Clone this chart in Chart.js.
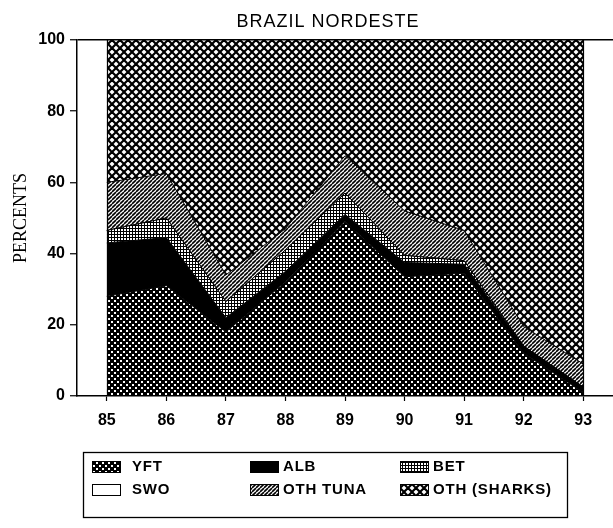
<!DOCTYPE html>
<html><head><meta charset="utf-8">
<script src="https://cdn.jsdelivr.net/npm/chart.js@4.4.1/dist/chart.umd.min.js"></script>
<style>html,body{margin:0;padding:0;background:#fff;}canvas{display:block;}</style>
</head><body>
<canvas id="c" width="613" height="528"></canvas>
<script>
const years = [85, 86, 87, 88, 89, 90, 91, 92, 93];
const yft = [28, 31, 18, 32, 49, 33.5, 34.5, 12, 1];
const alb = [15, 13.5, 4, 3, 2, 4, 2.5, 2, 1.5];
const bet = [3.5, 5.5, 4.5, 6, 6, 2, 1, 0, 0];
const swo = [0, 0, 0, 0, 0, 0, 0, 0, 0];
const othTuna = [13.5, 12.5, 7.5, 6, 10.5, 12.5, 8.5, 5.5, 6.5];
const othSharks = [40, 37.5, 66, 53, 32.5, 48, 53.5, 80.5, 91];
const seriesLabels = ['YFT', 'ALB', 'BET', 'SWO', 'OTH TUNA', 'OTH (SHARKS)'];
const yTicks = [0, 20, 40, 60, 80, 100];
const chartTitle = 'BRAZIL NORDESTE';
const yTitle = 'PERCENTS';

function tile(w, h, draw) {
  const c = document.createElement('canvas');
  c.width = w; c.height = h;
  const g = c.getContext('2d');
  draw(g, w, h);
  return document.getElementById('c').getContext('2d').createPattern(c, 'repeat');
}
const patYFT = tile(6, 6, (g) => {
  g.fillStyle = '#000'; g.fillRect(0, 0, 6, 6);
  g.fillStyle = '#fff'; g.fillRect(0, 0, 2, 2); g.fillRect(3, 3, 2, 2);
});
const patBET = tile(3, 3, (g) => {
  g.fillStyle = '#000'; g.fillRect(0, 0, 3, 3);
  g.fillStyle = '#fff'; g.fillRect(1, 1, 2, 2);
});
const patTuna = tile(4, 4, (g, s) => {
  g.fillStyle = '#fff'; g.fillRect(0, 0, s, s);
  g.strokeStyle = '#000'; g.lineWidth = 1.6;
  for (const d of [-s, 0, s]) { g.beginPath(); g.moveTo(d, s); g.lineTo(d + s, 0); g.stroke(); }
});
const patShark = tile(8, 8, (g, s) => {
  g.fillStyle = '#fff'; g.fillRect(0, 0, s, s);
  g.strokeStyle = '#000'; g.lineWidth = 2.2;
  for (const d of [-s, 0, s]) {
    g.beginPath(); g.moveTo(d, 0); g.lineTo(d + s, s); g.stroke();
    g.beginPath(); g.moveTo(d, s); g.lineTo(d + s, 0); g.stroke();
  }
});

const fills = [patYFT, '#000', patBET, '#fff', patTuna, patShark];
const seriesData = [yft, alb, bet, swo, othTuna, othSharks];

const datasets = seriesData.map((arr, i) => ({
  label: seriesLabels[i],
  data: arr.map((v, j) => ({ x: years[j], y: v })),
  backgroundColor: fills[i],
  borderColor: '#000',
  borderWidth: 1,
  pointRadius: 0,
  tension: 0,
  fill: i === 0 ? 'origin' : '-1'
}));

const decor = {
  id: 'decor',
  afterDatasetsDraw(chart) {
    const { ctx, scales: { x, y } } = chart;
    ctx.save();
    ctx.strokeStyle = '#000'; ctx.lineWidth = 1.2;
    for (const v of [years[0], years[years.length - 1]]) {
      const px = Math.round(x.getPixelForValue(v)) + 0.5;
      ctx.beginPath(); ctx.moveTo(px, y.getPixelForValue(0)); ctx.lineTo(px, y.getPixelForValue(100)); ctx.stroke();
    }
    ctx.restore();
  },
  afterDraw(chart) {
    const ctx = chart.ctx;
    ctx.save();
    ctx.fillStyle = '#000';
    ctx.font = '18px "Liberation Sans Narrow", "Liberation Sans", Arial, sans-serif';
    ctx.textAlign = 'center'; ctx.textBaseline = 'middle';
    if ('letterSpacing' in ctx) ctx.letterSpacing = '1px';
    ctx.fillText(chartTitle, 328, 22);
    ctx.strokeStyle = '#000'; ctx.lineWidth = 1.3;
    ctx.strokeRect(83.5, 452.5, 484, 65);
    const colX = [92, 250, 400];
    const txtOff = [40, 33, 33];
    const rowY = [466, 489];
    ctx.font = 'bold 15px "Liberation Sans", Arial, sans-serif';
    if ('letterSpacing' in ctx) ctx.letterSpacing = '0.8px';
    ctx.textAlign = 'left';
    chart.data.datasets.forEach((ds, i) => {
      const c = i % 3, r = Math.floor(i / 3);
      const sx = colX[c], sy = rowY[r] - 5;
      ctx.fillStyle = ds.backgroundColor;
      ctx.fillRect(sx, sy, 28, 11);
      ctx.lineWidth = 1;
      ctx.strokeRect(sx + 0.5, sy + 0.5, 28, 11);
      ctx.fillStyle = '#000';
      ctx.fillText(ds.label, sx + txtOff[c], rowY[r] + 1);
    });
    ctx.restore();
  }
};

new Chart(document.getElementById('c'), {
  type: 'line',
  data: { datasets },
  options: {
    responsive: false,
    animation: false,
    devicePixelRatio: 1,
    layout: { padding: { top: 40, right: 0, left: 0, bottom: 0 } },
    plugins: { legend: { display: false }, tooltip: { enabled: false }, title: { display: false } },
    scales: {
      x: {
        type: 'linear', min: 84.5, max: 93.5,
        afterBuildTicks: (s) => { s.ticks = years.map(v => ({ value: v })); },
        afterFit: (s) => { s.height = 132; },
        grid: { drawOnChartArea: false, drawTicks: true, tickLength: 5, tickColor: '#000', tickWidth: 1.2 },
        border: { display: true, color: '#000', width: 1.5 },
        ticks: { color: '#000', padding: 10, maxRotation: 0, autoSkip: false,
          font: { family: '"Liberation Sans", Arial, sans-serif', size: 16, weight: 'bold' } }
      },
      y: {
        stacked: true, min: 0, max: 100,
        afterBuildTicks: (s) => { s.ticks = yTicks.map(v => ({ value: v })); },
        afterFit: (s) => { s.width = 77; },
        grid: { drawOnChartArea: true, tickLength: 7, tickColor: '#000', tickWidth: 1.2,
          color: (c) => (c.tick && c.tick.value === 100 ? '#000' : 'rgba(0,0,0,0)'), lineWidth: 1.5 },
        border: { display: true, color: '#000', width: 1.5 },
        ticks: { color: '#000', padding: 5,
          font: { family: '"Liberation Sans", Arial, sans-serif', size: 16, weight: 'bold' } },
        title: { display: true, text: yTitle, color: '#000', padding: { top: 10, bottom: 0 },
          font: { family: '"Liberation Serif", "Times New Roman", serif', size: 18 } }
      }
    }
  },
  plugins: [decor]
});
</script>
</body></html>
